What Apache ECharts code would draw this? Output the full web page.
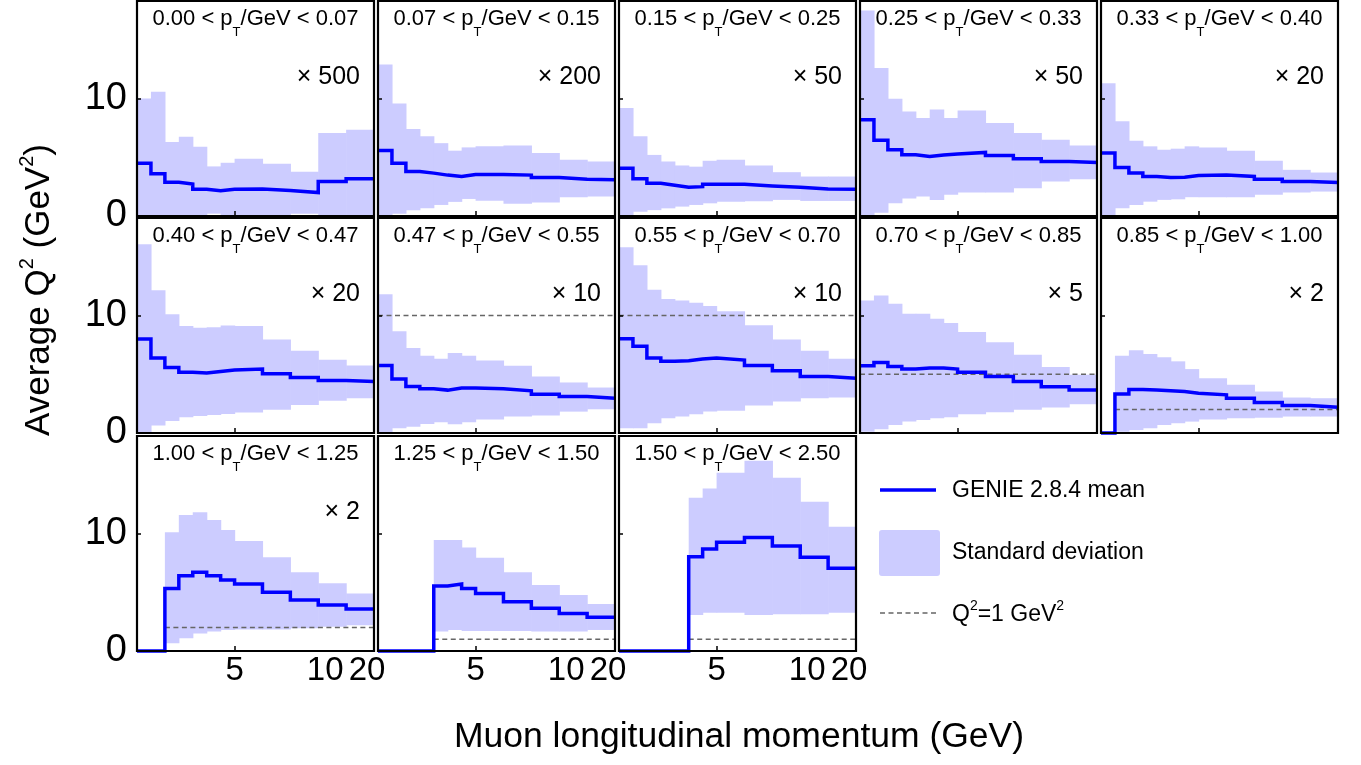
<!DOCTYPE html>
<html>
<head>
<meta charset="utf-8">
<script src="https://cdn.jsdelivr.net/npm/echarts@6/dist/echarts.min.js"></script>
<style>
  html, body { margin: 0; padding: 0; background: #fff; }
  #chart { width: 1361px; height: 765px; }
</style>
</head>
<body>
<div id="chart"></div>
<script>
const FONT = "'Liberation Sans', Arial, Helvetica, sans-serif"
const BAND = '#ccccff'
const BLUE = '#0000ff'

// pT slice edges (GeV) and the factor each panel was multiplied by
const ptEdges = ['0.00', '0.07', '0.15', '0.25', '0.33', '0.40', '0.47', '0.55', '0.70', '0.85', '1.00', '1.25', '1.50', '2.50']
const scaleFactors = [500, 200, 50, 50, 20, 20, 10, 10, 5, 2, 2, 1, 1]

// bin edges along the muon pz axis (plot units) and the axis labels
const binEdges = [0, 1, 2, 3, 4, 5, 6, 7, 9, 11, 13, 15, 17]
const xTickPos = [7, 13.5, 16.5]
const xTickLabels = ['5', '10', '20']
const yTickPos = [0, 10]
const yMax = 18.3

// GENIE 2.8.4 mean <Q2> per bin (GeV^2), already multiplied
const meanQ2 = [
  [4.5, 3.59, 2.88, 2.73, 2.28, 2.14, 2.28, 2.3, 2.17, 2.0, 2.93, 3.16],
  [5.58, 4.5, 3.79, 3.65, 3.48, 3.36, 3.53, 3.53, 3.48, 3.28, 3.13, 3.08],
  [4.07, 3.16, 2.79, 2.62, 2.45, 2.5, 2.7, 2.7, 2.56, 2.45, 2.3, 2.28],
  [8.2, 6.44, 5.64, 5.21, 5.07, 5.19, 5.27, 5.41, 5.16, 4.87, 4.64, 4.56],
  [5.36, 4.13, 3.65, 3.36, 3.28, 3.3, 3.45, 3.48, 3.36, 3.13, 2.93, 2.85],
  [8.0, 6.38, 5.58, 5.18, 5.1, 5.24, 5.36, 5.44, 5.04, 4.73, 4.47, 4.39],
  [5.75, 4.59, 3.96, 3.76, 3.65, 3.82, 3.82, 3.76, 3.59, 3.3, 3.1, 2.96],
  [8.03, 7.38, 6.38, 6.1, 6.15, 6.3, 6.38, 6.21, 5.75, 5.3, 4.81, 4.67],
  [5.73, 6.0, 5.67, 5.44, 5.53, 5.53, 5.44, 5.18, 4.81, 4.39, 3.93, 3.67],
  [0, 3.33, 3.7, 3.65, 3.59, 3.53, 3.39, 3.25, 2.96, 2.59, 2.34, 2.19],
  [0, 0, 5.33, 6.41, 6.7, 6.41, 6.04, 5.7, 4.99, 4.34, 3.91, 3.57],
  [0, 0, 0, 0, 5.53, 5.7, 5.33, 4.9, 4.2, 3.63, 3.2, 2.87],
  [0, 0, 0, 0, 0, 8.03, 8.68, 9.25, 9.67, 8.94, 7.97, 7.04]
]

// mean + standard deviation
const upperQ2 = [
  [10.0, 10.57, 6.3, 6.75, 5.9, 4.22, 4.53, 4.87, 4.44, 3.76, 7.07, 7.35],
  [12.9, 9.57, 7.4, 6.78, 6.2, 5.56, 5.84, 5.93, 6.0, 5.36, 4.79, 4.64],
  [9.2, 6.78, 5.2, 4.64, 4.3, 4.2, 4.7, 4.79, 4.3, 3.73, 3.36, 3.36],
  [17.5, 12.6, 9.97, 8.9, 8.35, 9.06, 8.35, 8.97, 7.92, 7.07, 6.5, 6.0],
  [11.3, 8.06, 6.4, 5.93, 5.64, 5.73, 5.93, 5.84, 5.56, 4.7, 3.93, 3.7],
  [16.07, 12.14, 10.1, 9.1, 8.95, 9.0, 9.15, 9.1, 7.95, 7.0, 6.24, 5.75],
  [11.8, 8.66, 7.24, 6.58, 6.32, 6.8, 6.58, 6.18, 5.73, 4.81, 4.3, 3.87],
  [15.8, 14.27, 12.2, 11.4, 11.28, 11.08, 10.8, 10.37, 9.17, 7.95, 7.0, 6.32],
  [11.28, 11.7, 11.0, 10.14, 10.14, 9.72, 9.37, 8.6, 7.72, 6.67, 5.61, 4.96],
  [null, 6.58, 7.04, 6.72, 6.44, 6.1, 5.44, 4.67, 4.1, 3.53, 3.02, 2.96],
  [null, null, 10.1, 11.57, 11.8, 11.15, 10.3, 9.36, 7.97, 6.7, 5.76, 4.9],
  [null, null, null, null, 9.45, 9.45, 8.82, 7.94, 6.7, 5.62, 4.77, 4.0],
  [null, null, null, null, null, 13.05, 13.84, 15.18, 16.2, 14.75, 12.71, 10.58]
]

// mean - standard deviation (clipped at zero)
const lowerQ2 = [
  [0, 0, 0, 0, 0, 0.2, 0, 0, 0, 0.2, 0, 0],
  [0, 0.2, 0.5, 0.65, 0.94, 1.2, 1.45, 1.3, 1.05, 1.14, 1.6, 1.65],
  [0, 0.37, 0.5, 0.65, 0.8, 0.94, 1.08, 1.22, 1.25, 1.37, 1.28, 1.28],
  [0, 0.28, 1.08, 1.5, 1.65, 1.37, 1.8, 2.0, 2.0, 2.36, 2.93, 3.13],
  [0, 0.65, 0.94, 1.22, 1.37, 1.42, 1.6, 1.6, 1.6, 1.8, 2.0, 2.08],
  [0, 0.63, 1.03, 1.34, 1.45, 1.54, 1.62, 1.74, 1.97, 2.39, 2.74, 2.96],
  [0, 0.4, 0.54, 0.77, 0.91, 0.74, 0.91, 1.15, 1.4, 1.48, 1.82, 2.02],
  [0.4, 0.4, 0.83, 1.25, 1.4, 1.6, 1.82, 1.9, 2.35, 2.68, 2.96, 3.02],
  [0.1, 0.31, 0.68, 0.97, 1.11, 1.25, 1.34, 1.6, 1.77, 1.97, 2.17, 2.45],
  [null, 0.1, 0.25, 0.4, 0.68, 0.83, 0.97, 1.15, 1.25, 1.3, 1.4, 1.4],
  [null, null, 0.65, 1.08, 1.5, 1.65, 1.79, 1.82, 1.84, 1.93, 2.07, 2.2],
  [null, null, null, null, 1.65, 1.79, 1.7, 1.7, 1.7, 1.65, 1.65, 1.79],
  [null, null, null, null, null, 3.06, 3.26, 3.26, 3.06, 3.12, 3.12, 3.26]
]

// panel layout (pixels)
const colLeft = [137, 378, 619, 860, 1101]
const rowTop = [1, 218, 436]
const panelW = 237
const panelH = 215
const xEnd = binEdges[binEdges.length - 1]

const grids = []
const xAxes = []
const yAxes = []
const series = []
const graphic = []

meanQ2.forEach((mean, i) => {
  const col = i % 5
  const row = Math.floor(i / 5)
  const left = colLeft[col]
  const top = rowTop[row]

  grids.push({
    left: left,
    top: top,
    width: panelW,
    height: panelH,
    show: true,
    borderColor: '#000',
    borderWidth: 2.2,
    backgroundColor: 'transparent',
    z: 10
  })

  xAxes.push({
    gridIndex: i,
    type: 'value',
    min: 0,
    max: xEnd,
    z: 10,
    axisLine: { show: false },
    splitLine: { show: false },
    axisTick: {
      show: true,
      inside: true,
      length: 5,
      customValues: [xTickPos[0]],
      lineStyle: { color: '#000', width: 1.5 }
    },
    axisLabel: {
      show: i >= 10,
      customValues: xTickPos,
      formatter: v => xTickLabels[xTickPos.indexOf(v)],
      fontFamily: FONT,
      fontSize: 33,
      color: '#000',
      margin: 3
    }
  })

  yAxes.push({
    gridIndex: i,
    type: 'value',
    min: 0,
    max: yMax,
    z: 10,
    axisLine: { show: false },
    splitLine: { show: false },
    axisTick: {
      show: true,
      inside: true,
      length: 4,
      customValues: yTickPos,
      lineStyle: { color: '#000', width: 1.5 }
    },
    axisLabel: {
      show: col === 0,
      customValues: yTickPos,
      fontFamily: FONT,
      fontSize: 38,
      color: '#000',
      margin: 10
    }
  })

  // standard deviation band
  const band = []
  mean.forEach((m, k) => {
    if (upperQ2[i][k] == null) return
    band.push([binEdges[k], binEdges[k + 1], lowerQ2[i][k], upperQ2[i][k]])
  })
  series.push({
    type: 'custom',
    xAxisIndex: i,
    yAxisIndex: i,
    silent: true,
    z: 1,
    encode: { x: [0, 1], y: [2, 3] },
    data: band,
    renderItem: (params, api) => {
      const p0 = api.coord([api.value(0), api.value(3)])
      const p1 = api.coord([api.value(1), api.value(2)])
      return {
        type: 'rect',
        shape: { x: p0[0], y: p0[1], width: p1[0] - p0[0] + 0.6, height: p1[1] - p0[1] },
        style: { fill: BAND }
      }
    }
  })

  // Q2 = 1 GeV^2 reference, scaled with the panel
  const f = scaleFactors[i]
  if (f <= yMax) {
    const k0 = upperQ2[i].findIndex(v => v != null)
    series.push({
      type: 'line',
      xAxisIndex: i,
      yAxisIndex: i,
      silent: true,
      z: 2,
      symbol: 'none',
      data: [[binEdges[k0], f], [xEnd, f]],
      lineStyle: { color: '#666', width: 1.5, type: [5, 3.5] },
      animation: false
    })
  }

  // GENIE mean, drawn as a histogram
  const steps = mean.map((m, k) => [binEdges[k], m])
  steps.push([xEnd, mean[mean.length - 1]])
  series.push({
    type: 'line',
    xAxisIndex: i,
    yAxisIndex: i,
    silent: true,
    z: 3,
    step: 'end',
    symbol: 'none',
    clip: false,
    data: steps,
    lineStyle: { color: BLUE, width: 3.5, join: 'miter', cap: 'butt' },
    animation: false
  })

  // panel title with subscript
  graphic.push({
    type: 'text',
    x: left + panelW / 2,
    y: top + 7,
    z: 20,
    style: {
      text: `{a|${ptEdges[i]} < p}{s|T}{a|/GeV < ${ptEdges[i + 1]}}`,
      align: 'center',
      verticalAlign: 'top',
      rich: {
        a: { fontFamily: FONT, fontSize: 22, lineHeight: 26, verticalAlign: 'top', fill: '#000' },
        s: { fontFamily: FONT, fontSize: 13, lineHeight: 31, verticalAlign: 'bottom', fill: '#000' }
      }
    }
  })

  if (f > 1) {
    graphic.push({
      type: 'text',
      x: left + panelW - 14,
      y: top + 76,
      z: 20,
      style: {
        text: '\u00d7 ' + f,
        align: 'right',
        verticalAlign: 'middle',
        font: `25px ${FONT}`,
        fill: '#000'
      }
    })
  }
})

// axis titles
graphic.push({
  type: 'text',
  x: 37,
  y: 290,
  rotation: Math.PI / 2,
  style: {
    text: '{a|Average Q}{p|2}{a| (GeV}{p|2}{a|)}',
    align: 'center',
    verticalAlign: 'middle',
    rich: {
      a: { fontFamily: FONT, fontSize: 35, lineHeight: 40, verticalAlign: 'bottom', fill: '#000' },
      p: { fontFamily: FONT, fontSize: 20, lineHeight: 20, verticalAlign: 'top', fill: '#000' }
    }
  }
})
graphic.push({
  type: 'text',
  x: 739,
  y: 737,
  style: {
    text: 'Muon longitudinal momentum (GeV)',
    align: 'center',
    verticalAlign: 'middle',
    font: `35.5px ${FONT}`,
    fill: '#000'
  }
})

// legend
graphic.push(
  {
    type: 'line',
    shape: { x1: 880, y1: 490, x2: 936, y2: 490 },
    style: { stroke: BLUE, lineWidth: 3.5 }
  },
  {
    type: 'text',
    x: 952,
    y: 491,
    style: { text: 'GENIE 2.8.4 mean', verticalAlign: 'middle', font: `23px ${FONT}`, fill: '#000' }
  },
  {
    type: 'rect',
    shape: { x: 879, y: 530, width: 61, height: 46, r: 3 },
    style: { fill: BAND }
  },
  {
    type: 'text',
    x: 952,
    y: 553,
    style: { text: 'Standard deviation', verticalAlign: 'middle', font: `23px ${FONT}`, fill: '#000' }
  },
  {
    type: 'line',
    shape: { x1: 880, y1: 613, x2: 936, y2: 613 },
    style: { stroke: '#666', lineWidth: 1.5, lineDash: [5, 3.5] }
  },
  {
    type: 'text',
    x: 952,
    y: 613,
    style: {
      text: '{a|Q}{p|2}{a|=1 GeV}{p|2}',
      verticalAlign: 'middle',
      rich: {
        a: { fontFamily: FONT, fontSize: 23, lineHeight: 27, verticalAlign: 'bottom', fill: '#000' },
        p: { fontFamily: FONT, fontSize: 14, lineHeight: 14, verticalAlign: 'top', fill: '#000' }
      }
    }
  }
)

const chart = echarts.init(document.getElementById('chart'))
chart.setOption({
  animation: false,
  backgroundColor: '#fff',
  grid: grids,
  xAxis: xAxes,
  yAxis: yAxes,
  series: series,
  graphic: graphic
})
</script>
</body>
</html>
